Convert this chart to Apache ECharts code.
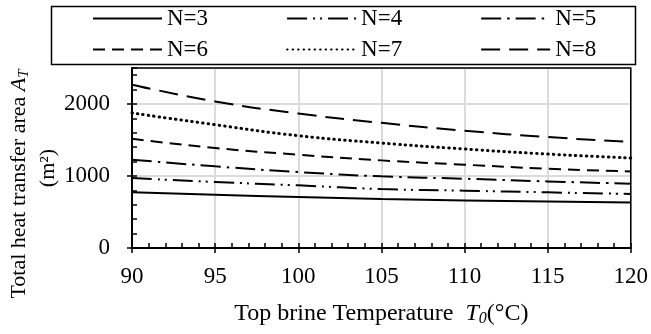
<!DOCTYPE html>
<html><head><meta charset="utf-8">
<script src="https://cdn.jsdelivr.net/npm/echarts@6/dist/echarts.min.js"></script>
<style>html,body{margin:0;padding:0;background:#fff}#c{width:651px;height:334px}</style>
</head><body><div id="c"></div>
<script>
const temps = [90, 95, 100, 105, 110, 115, 120];
const seriesNames = ['N=3','N=4','N=5','N=6','N=7','N=8'];
const n3 = [773, 740, 708, 680, 661, 647, 633];
const n4 = [972, 917, 870, 819, 796, 773, 750];
const n5 = [1226, 1134, 1055, 995, 962, 925, 893];
const n6 = [1518, 1389, 1296, 1217, 1157, 1101, 1064];
const n7 = [1875, 1712, 1560, 1458, 1375, 1305, 1250];
const n8 = [2268, 2036, 1868, 1738, 1629, 1541, 1472];
const xTicks = [90, 95, 100, 105, 110, 115, 120];
const yTicks = [0, 1000, 2000];

const FONT = 'Liberation Serif';
const values = [n3, n4, n5, n6, n7, n8];
const dashes = ['solid', [20,6,2,5,2,6], [20,6,2.5,6], [12,7], [0.5,5], [19,9]];
const chart = echarts.init(document.getElementById('c'), null, {renderer:'canvas'});
const series = values.map((v, i) => ({
  name: seriesNames[i], type: 'line', smooth: true, symbol: 'none', z: 3,
  data: temps.map((t, j) => [t, v[j]]),
  lineStyle: {color:'#000', width: i===4 ? 3 : 2, type: dashes[i], cap: i===4 ? 'round' : 'butt'},
  itemStyle: {color:'#000'}
}));
const lbl = {fontFamily: FONT, fontSize: 23, color:'#000'};
const legendCommon = {left: 92, padding: 0, itemWidth: 69, itemHeight: 14, itemGap: 78,
  itemStyle: {opacity: 0},
  textStyle: {fontFamily: FONT, fontSize: 23, color:'#000'}, selectedMode:false};
chart.setOption({
  animation: false,
  backgroundColor: '#fff',
  grid: {left: 132, right: 20, top: 68, bottom: 86, show: true, z: 4, backgroundColor: 'rgba(0,0,0,0)', borderColor:'#000', borderWidth: 1.5},
  legend: [
    Object.assign({}, legendCommon, {data: seriesNames.slice(0,3), top: 7}),
    Object.assign({}, legendCommon, {data: seriesNames.slice(3,6), top: 38})
  ],
  xAxis: [
    {type:'value', min: xTicks[0], max: xTicks[xTicks.length-1], interval: 5, position:'bottom',
     axisLine:{show:true, lineStyle:{color:'#000', width:2}},
     axisTick:{show:true, inside:false, length:5, lineStyle:{color:'#000', width:1.5}},
     axisLabel:{...lbl, margin: 17, formatter: v => String(v)},
     splitLine:{show:true, lineStyle:{color:'#d9d9d9', width:1.5, type:'solid'}},
     name: 'Top brine Temperature  {i|T}{s|0}(°C)', nameLocation:'middle', nameGap: 53,
     nameTextStyle:{fontFamily: FONT, fontSize: 24, color:'#000',
       rich:{i:{fontFamily:FONT, fontStyle:'italic', fontSize:24, color:'#000'},
             s:{fontFamily:FONT, fontStyle:'italic', fontSize:16, color:'#000', verticalAlign:'bottom', padding:[10,0,0,0]}}}},
    {type:'value', min: xTicks[0], max: xTicks[xTicks.length-1], interval: 5, position:'bottom',
     axisLine:{show:true, lineStyle:{color:'rgba(0,0,0,0)', width:0}}, axisLabel:{show:false},
     splitLine:{show:true, lineStyle:{color:'#d9d9d9', width:1.5, type:'solid'}},
     axisTick:{show:true, inside:true, length:5, lineStyle:{color:'#000', width:1.5}},
     minorTick:{show:true, splitNumber:5, length:5, lineStyle:{color:'#000', width:1.5}}}
  ],
  yAxis: [
    {type:'value', min: 0, max: 2500, interval: 1000, position:'left',
     axisLine:{show:true, lineStyle:{color:'#000', width:2}},
     axisTick:{show:true, inside:false, length:5, lineStyle:{color:'#000', width:1.5}},
     axisLabel:{...lbl, margin: 22, showMaxLabel:false, formatter: v => String(v)},
     splitLine:{show:true, lineStyle:{color:'#d9d9d9', width:1.5, type:'solid'}}},
    {type:'value', min: 0, max: 2500, interval: 1000, position:'left',
     axisLine:{show:true, lineStyle:{color:'rgba(0,0,0,0)', width:0}}, axisLabel:{show:false},
     splitLine:{show:true, lineStyle:{color:'#d9d9d9', width:1.5, type:'solid'}},
     axisTick:{show:true, inside:true, length:5, lineStyle:{color:'#000', width:1.5}},
     minorTick:{show:true, splitNumber:5, length:5, lineStyle:{color:'#000', width:1.5}}}
  ],
  graphic: [
    {type:'rect', left: 49, top: 4, shape:{width: 584, height: 58}, style:{fill:'none', stroke:'#000', lineWidth:1.5}, z: 100},
    {type:'text', x: 19, y: 184, rotation: Math.PI/2, style:{
      text: 'Total heat transfer area {i|A}{s|T}', fontFamily: FONT, fontSize: 22, fill:'#000',
      align:'center', verticalAlign:'middle',
      rich:{i:{fontFamily:FONT, fontStyle:'italic', fontSize:22, fill:'#000'},
            s:{fontFamily:FONT, fontStyle:'italic', fontSize:15, fill:'#000', verticalAlign:'bottom', padding:[10,0,0,0]}}}},
    {type:'text', x: 48, y: 168, rotation: Math.PI/2, style:{
      text: '(m²)', fontFamily: FONT, fontSize: 22, fill:'#000', align:'center', verticalAlign:'middle'}}
  ],
  series: series
});
</script></body></html>
